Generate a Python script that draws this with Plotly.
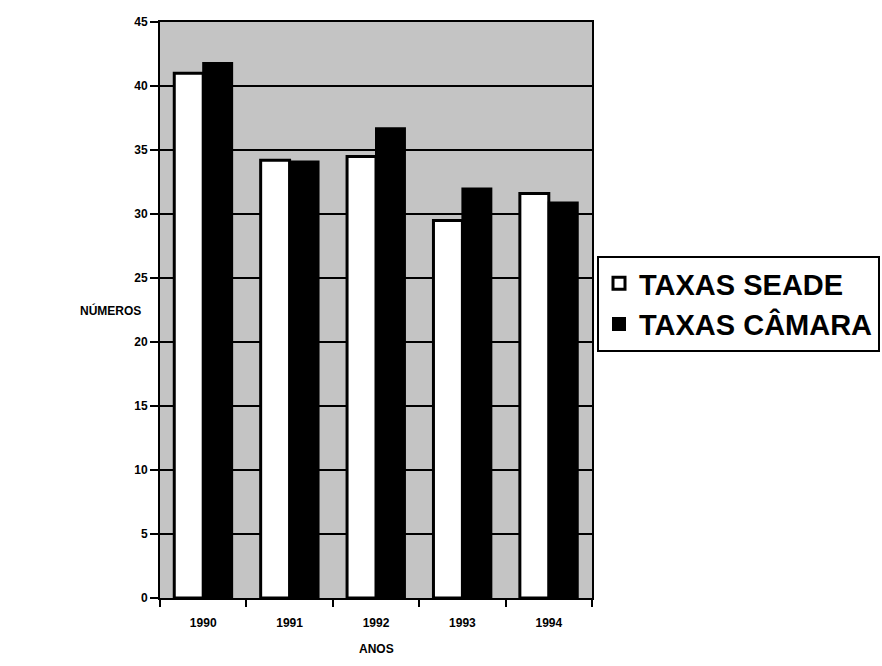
import plotly.graph_objects as go

# Data
anos = ["1990", "1991", "1992", "1993", "1994"]
taxas_seade = [41.0, 34.2, 34.5, 29.5, 31.6]
taxas_camara = [41.8, 34.1, 36.7, 32.0, 30.9]
y_ticks = [0, 5, 10, 15, 20, 25, 30, 35, 40, 45]

FONT = "Liberation Sans"

fig = go.Figure()
fig.add_trace(go.Bar(
    x=anos, y=taxas_seade, name="<b>TAXAS SEADE</b>",
    marker=dict(color="white", line=dict(color="black", width=3)),
))
fig.add_trace(go.Bar(
    x=anos, y=taxas_camara, name="<b>TAXAS CÂMARA</b>",
    marker=dict(color="black", line=dict(color="black", width=2)),
))

W, H = 882, 666
L, R, T, B = 160, 290, 22, 68
PW, PH = W - L - R, H - T - B

fig.update_layout(
    width=W, height=H,
    margin=dict(l=L, r=R, t=T, b=B, autoexpand=False),
    paper_bgcolor="white",
    plot_bgcolor="#c4c4c4",
    barmode="group",
    bargap=0.33,
    bargroupgap=0.0,
    font=dict(family=FONT, color="black"),
    legend=dict(
        x=(597 - L) / PW, xanchor="left",
        y=(H - B - 256) / PH, yanchor="top",
        bordercolor="black", borderwidth=2,
        bgcolor="white",
        font=dict(family=FONT, size=29, color="black"),
        itemwidth=30,
        tracegroupgap=0,
    ),
    xaxis=dict(
        showline=True, linecolor="black", linewidth=2, mirror=True,
        ticks="outside", tickson="boundaries", ticklen=7, tickwidth=2,
        tickcolor="black",
        tickfont=dict(family=FONT, size=12, color="black", weight="bold"),
        ticklabelstandoff=13,
        showgrid=False,
    ),
    yaxis=dict(
        range=[0, 45], tickvals=y_ticks,
        ticktext=[f"<b>{v}</b>" for v in y_ticks],
        showline=True, linecolor="black", linewidth=2, mirror=True,
        ticks="outside", ticklen=8, tickwidth=2, tickcolor="black",
        tickfont=dict(family=FONT, size=12, color="black"),
        showgrid=True, gridcolor="black", gridwidth=2,
        zeroline=False,
    ),
    annotations=[
        dict(text="<b>NÚMEROS</b>", xref="paper", yref="paper",
             x=(78 - L) / PW, y=(H - B - 310) / PH,
             showarrow=False, font=dict(family=FONT, size=12, color="black")),
        dict(text="<b>ANOS</b>", xref="paper", yref="paper",
             x=0.5, y=-(658 - (H - B)) / PH,
             showarrow=False, font=dict(family=FONT, size=12, color="black")),
    ],
)

fig.write_html("out.html")
